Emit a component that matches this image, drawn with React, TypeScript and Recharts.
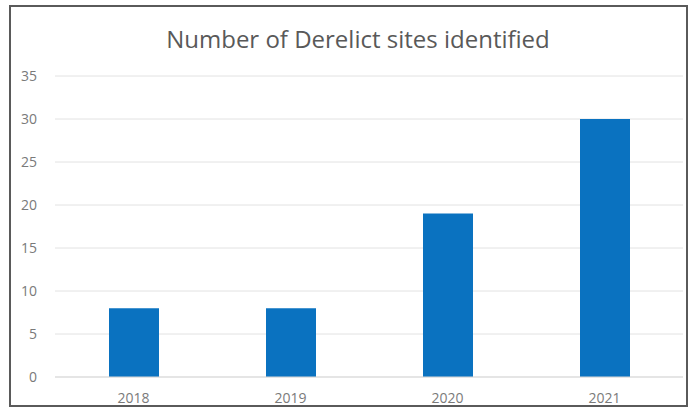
import { BarChart, Bar, XAxis, YAxis, CartesianGrid } from "recharts";

const years = ["2018", "2019", "2020", "2021"];
const sites = [8, 8, 19, 30];
const yTicks = [0, 5, 10, 15, 20, 25, 30, 35];

const data = years.map((year, i) => ({ year, sites: sites[i] }));

const FONT = "'Open Sans', 'Liberation Sans', sans-serif";

export default function App() {
  return (
    <div
      style={{
        position: "absolute",
        left: 0,
        top: 0,
        width: 693,
        height: 410,
        background: "#fff",
        fontFamily: FONT,
      }}
    >
      <div
        style={{
          position: "absolute",
          left: 9,
          top: 5,
          width: 675,
          height: 398,
          border: "2px solid #5a5a5a",
        }}
      />
      <div
        style={{
          position: "absolute",
          left: 0,
          top: 22,
          width: 716,
          textAlign: "center",
          fontSize: 24,
          color: "#595959",
        }}
      >
        Number of Derelict sites identified
      </div>
      <BarChart
        width={693}
        height={410}
        data={data}
        margin={{ top: 76, right: 10, bottom: 3, left: 0 }}
        style={{ position: "absolute", left: 0, top: 0 }}
      >
        <CartesianGrid vertical={false} stroke="#e2e2e2" />
        <XAxis
          dataKey="year"
          height={30}
          axisLine={{ stroke: "#d9d9d9" }}
          tickLine={false}
          tickMargin={10}
          tick={{ fontSize: 14, fill: "#7a7a7a", fontFamily: FONT }}
        />
        <YAxis
          width={55}
          domain={[0, 35]}
          ticks={yTicks}
          axisLine={false}
          tickLine={false}
          tickMargin={12}
          tick={{ fontSize: 14, fill: "#7a7a7a", fontFamily: FONT }}
        />
        <Bar dataKey="sites" fill="#0a72c0" barSize={50} isAnimationActive={false} />
      </BarChart>
    </div>
  );
}
